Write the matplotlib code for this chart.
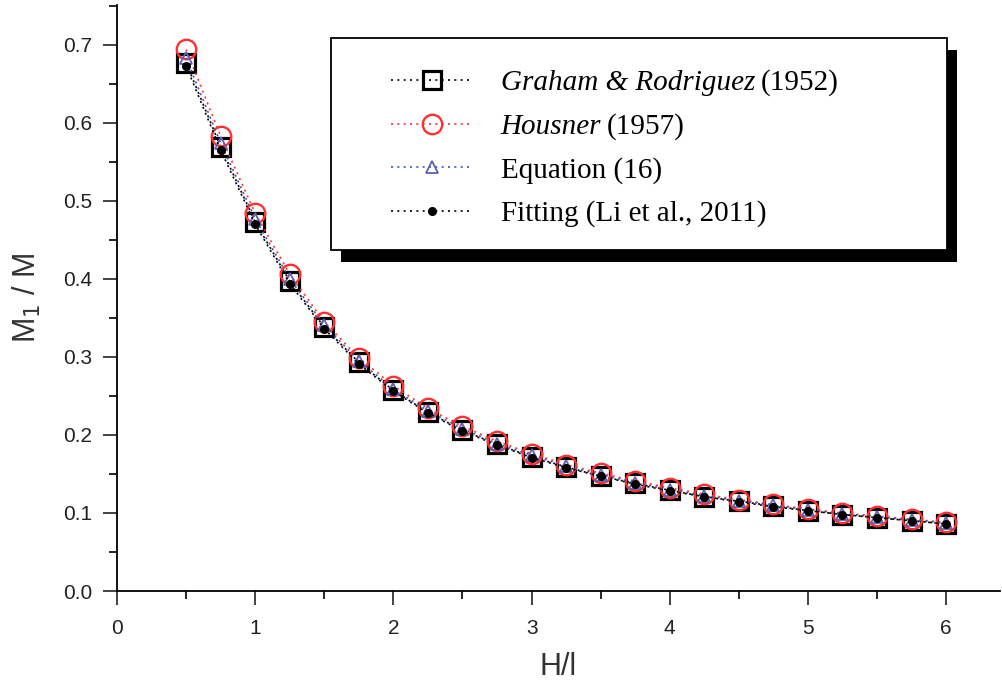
import numpy as np
import matplotlib
matplotlib.use('Agg')
import matplotlib.pyplot as plt
from matplotlib.patches import Rectangle
from matplotlib.ticker import MultipleLocator, FormatStrFormatter

plt.rcParams['font.family'] = 'Liberation Sans'

# H/l values
h_over_l = [0.5, 0.75, 1.0, 1.25, 1.5, 1.75, 2.0, 2.25, 2.5, 2.75, 3.0, 3.25,
            3.5, 3.75, 4.0, 4.25, 4.5, 4.75, 5.0, 5.25, 5.5, 5.75, 6.0]

graham = [0.677, 0.569, 0.473, 0.397, 0.338, 0.293, 0.257, 0.229, 0.206, 0.188,
          0.172, 0.159, 0.147, 0.138, 0.129, 0.121, 0.115, 0.109, 0.103, 0.098,
          0.094, 0.090, 0.086]
housner = [0.694, 0.583, 0.484, 0.406, 0.345, 0.299, 0.263, 0.234, 0.211, 0.192,
           0.176, 0.162, 0.151, 0.141, 0.132, 0.124, 0.117, 0.111, 0.105, 0.100,
           0.096, 0.092, 0.088]
equation16 = [0.683, 0.574, 0.477, 0.400, 0.341, 0.295, 0.259, 0.231, 0.208, 0.189,
              0.174, 0.160, 0.149, 0.139, 0.130, 0.122, 0.116, 0.110, 0.104, 0.099,
              0.095, 0.091, 0.087]
fitting = [0.673, 0.565, 0.470, 0.394, 0.336, 0.291, 0.256, 0.228, 0.205, 0.187,
           0.171, 0.158, 0.147, 0.137, 0.128, 0.121, 0.114, 0.108, 0.103, 0.098,
           0.094, 0.090, 0.086]

# legend labels: (italic part, regular part)
label_italic = ['Graham & Rodriguez', 'Housner', '', '']
label_plain = ['(1952)', '(1957)', 'Equation (16)', 'Fitting (Li et al., 2011)']

dots = (0, (1.2, 2.6))

fig = plt.figure(figsize=(10.02, 6.85), dpi=100)
ax = fig.add_axes([0.1168, 0.1372, 0.8812, 0.8555])

ax.plot(h_over_l, graham, ls=dots, color='black', lw=1.2, marker='s', ms=13,
        mfc='none', mec='black', mew=2.3, label='a')
ax.plot(h_over_l, housner, ls=dots, color='#ff3030', lw=1.2, marker='o', ms=14,
        mfc='none', mec='#ff3030', mew=1.7, label='b')
ax.plot(h_over_l, equation16, ls=dots, color='#4050c0', lw=1.2, marker='^', ms=9,
        mfc='none', mec='#6060b0', mew=1.3, label='c')
ax.plot(h_over_l, fitting, ls=dots, color='black', lw=1.2, marker='o', ms=5.5,
        mfc='black', mec='black', label='d')

ax.set_xlim(0, 6.39)
ax.set_ylim(0, 0.751)
ax.spines['top'].set_visible(False)
ax.spines['right'].set_visible(False)
ax.spines['left'].set_linewidth(1.3)
ax.spines['bottom'].set_linewidth(1.3)

ax.xaxis.set_major_locator(MultipleLocator(1))
ax.xaxis.set_minor_locator(MultipleLocator(0.5))
ax.yaxis.set_major_locator(MultipleLocator(0.1))
ax.yaxis.set_minor_locator(MultipleLocator(0.05))
ax.yaxis.set_major_formatter(FormatStrFormatter('%.1f'))
ax.tick_params(which='major', length=10, width=1.2, colors='#222222', labelsize=15)
ax.tick_params(which='minor', length=5.5, width=1.2)
ax.tick_params(axis='y', pad=8)
ax.tick_params(axis='x', pad=10)

ax.set_xlabel('H/l', fontsize=22, color='#333333', labelpad=10)
ax.set_ylabel(r'M$_1$ / M', fontsize=22, color='#333333', labelpad=14)

# legend: own frame + shadow, frameless legend inside
W, H = fig.bbox.width, fig.bbox.height
fx0, fy_top, fx1, fy_bot = 331, 38, 947, 250
shadow = Rectangle((fx0 + 10, H - fy_bot - 12), fx1 - fx0, fy_bot - fy_top,
                   transform=None, facecolor='black', edgecolor='none', zorder=6)
frame = Rectangle((fx0, H - fy_bot), fx1 - fx0, fy_bot - fy_top, transform=None,
                  facecolor='white', edgecolor='black', lw=1.3, zorder=6.1)
fig.add_artist(shadow)
fig.add_artist(frame)

labels = [i if i else p for i, p in zip(label_italic, label_plain)]
handles = ax.get_lines()
leg = fig.legend(handles, labels, loc='upper left',
                 bbox_to_anchor=(391 / W, 1 - 70 / H),
                 prop={'family': 'Liberation Serif', 'size': 21},
                 frameon=False, handlelength=2.8, handletextpad=0.96,
                 labelspacing=0.58, borderpad=0, borderaxespad=0)
leg.set_zorder(7)
for t, it in zip(leg.get_texts(), label_italic):
    if it:
        t.set_fontstyle('italic')

fig.canvas.draw()
for t, it, p in zip(leg.get_texts(), label_italic, label_plain):
    if it:
        tb = t.get_window_extent()
        fig.text(tb.x1 + 6, tb.y0, p, transform=None, fontsize=21,
                 family='Liberation Serif', va='bottom', zorder=10)

plt.savefig('out.png', dpi=100)
